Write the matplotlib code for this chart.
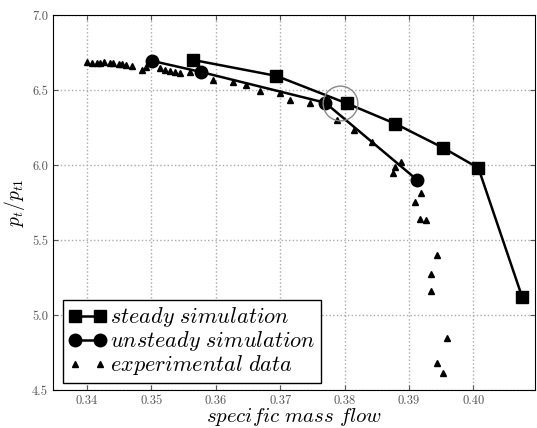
import matplotlib
matplotlib.use('Agg')
import matplotlib.pyplot as plt

# compressor characteristic: total pressure ratio vs specific mass flow
steady_flow = [0.3565, 0.3694, 0.3804, 0.3879, 0.3953, 0.4008, 0.4076]
steady_ratio = [6.70, 6.594, 6.41, 6.275, 6.115, 5.98, 5.12]

unsteady_flow = [0.3501, 0.3577, 0.3770, 0.3913]
unsteady_ratio = [6.694, 6.62, 6.415, 5.90]

exp_flow = [0.3400, 0.3407, 0.3415, 0.3420, 0.3427, 0.3435, 0.3441, 0.3449,
            0.3454, 0.3461, 0.3470, 0.3485, 0.3492, 0.3513, 0.3521, 0.3529,
            0.3537, 0.3545, 0.3560, 0.3596, 0.3627, 0.3647, 0.3669, 0.3700,
            0.3716, 0.3747, 0.3789, 0.3814, 0.3843, 0.3887, 0.3879, 0.3876,
            0.3919, 0.3910, 0.3918, 0.3927, 0.3944, 0.3935, 0.3935, 0.3960,
            0.3943, 0.3953]
exp_ratio = [6.687, 6.679, 6.681, 6.679, 6.684, 6.683, 6.677, 6.674,
             6.674, 6.667, 6.657, 6.634, 6.654, 6.647, 6.634, 6.627,
             6.621, 6.614, 6.621, 6.567, 6.554, 6.534, 6.494, 6.481,
             6.434, 6.414, 6.301, 6.235, 6.155, 6.022, 5.989, 5.949,
             5.816, 5.756, 5.643, 5.636, 5.397, 5.270, 5.157, 4.844,
             4.678, 4.611]

# operating point circled on the plot
highlight = (0.3793, 6.41)

xticks = [0.34, 0.35, 0.36, 0.37, 0.38, 0.39, 0.40]
yticks = [4.5, 5.0, 5.5, 6.0, 6.5, 7.0]

plt.rcParams['mathtext.fontset'] = 'cm'
plt.rcParams['font.family'] = 'cmr10'
plt.rcParams['axes.formatter.use_mathtext'] = True

fig = plt.figure(figsize=(5.37, 4.28), dpi=100)
ax = fig.add_axes([0.0987, 0.0888, 0.8976, 0.8762])

ax.plot(steady_flow, steady_ratio, 'k-s', lw=1.8, ms=9,
        label=r'$steady\ simulation$')
ax.plot(unsteady_flow, unsteady_ratio, 'k-o', lw=1.8, ms=9,
        label=r'$unsteady\ simulation$')
ax.plot(exp_flow, exp_ratio, 'k^', ls='none', ms=4,
        label=r'$experimental\ data$')
ax.plot([highlight[0]], [highlight[1]], 'o', ms=25, mfc='none',
        mec='#888888', mew=1.0)

ax.set_xlim(0.3347, 0.4096)
ax.set_ylim(4.5, 7.0)
ax.set_xticks(xticks)
ax.set_yticks(yticks)
ax.set_xticklabels(['%.2f' % t for t in xticks])
ax.set_yticklabels(['%.1f' % t for t in yticks])
ax.tick_params(direction='in', labelsize=9, colors='#555555',
               top=True, right=True)
ax.grid(True, ls=':', color='#aaaaaa', lw=1.0)

ax.set_xlabel(r'$specific\ mass\ flow$', fontsize=15, labelpad=-1)
ax.set_ylabel(r'$p_t/p_{t1}$', fontsize=14, labelpad=4)

leg = ax.legend(loc='lower left', bbox_to_anchor=(0.021, 0.019),
                borderaxespad=0, numpoints=2, fontsize=16,
                fancybox=False, edgecolor='black', framealpha=1,
                handlelength=1.7, handletextpad=0.15, borderpad=0.25,
                labelspacing=0.0)
leg.get_frame().set_linewidth(1.0)

fig.savefig('out.png', dpi=100)
